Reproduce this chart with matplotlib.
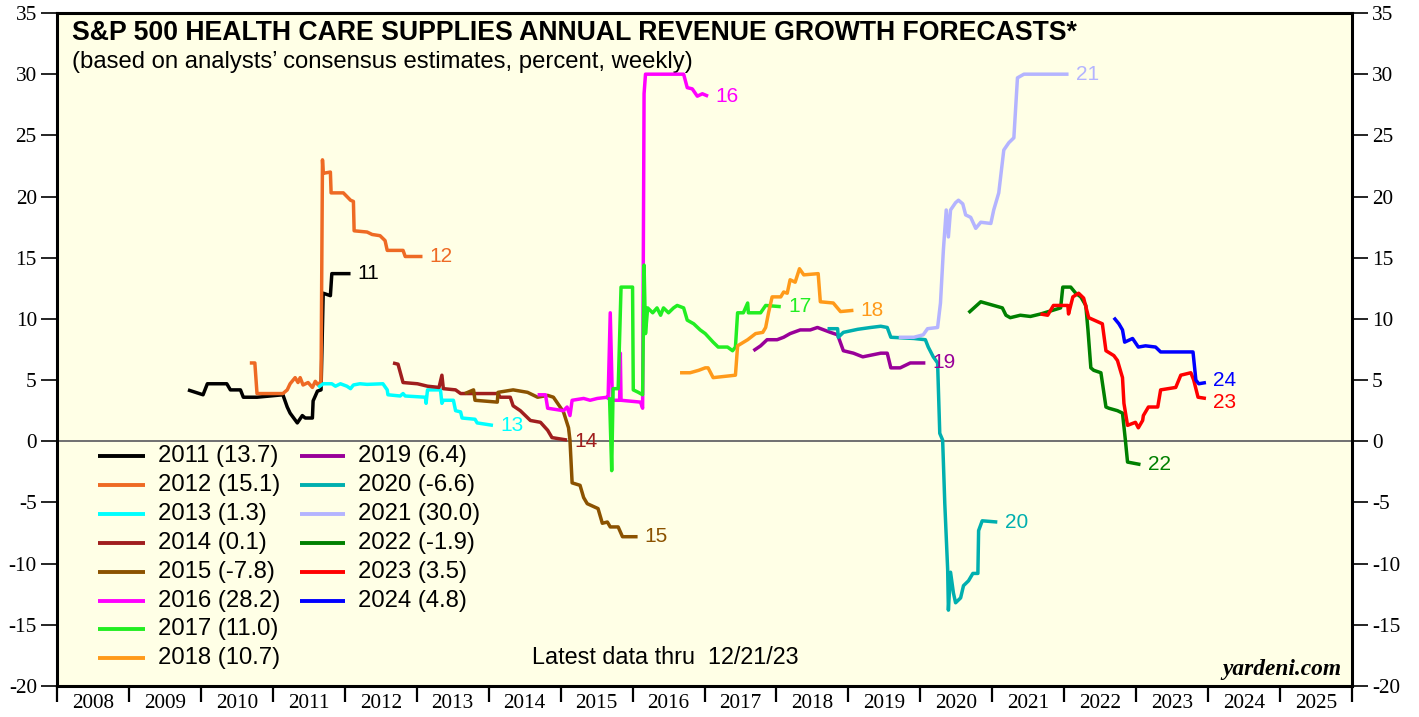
import matplotlib
matplotlib.use("Agg")
import matplotlib.pyplot as plt
import numpy as np

# ---------------- data (decimal year, percent) ----------------
t2011 = [2009.82, 2010.03, 2010.09, 2010.36, 2010.41, 2010.55, 2010.59, 2010.78, 2011.14, 2011.20, 2011.24, 2011.34, 2011.41, 2011.45, 2011.55, 2011.56, 2011.62, 2011.67, 2011.70, 2011.80, 2011.82, 2012.08]
v2011 = [4.2, 3.8, 4.7, 4.7, 4.2, 4.2, 3.6, 3.6, 3.8, 2.8, 2.3, 1.5, 2.1, 1.9, 1.9, 3.3, 4.1, 4.2, 12.1, 11.9, 13.7, 13.7]

t2012 = [2010.68, 2010.75, 2010.78, 2011.14, 2011.20, 2011.24, 2011.31, 2011.35, 2011.38, 2011.42, 2011.49, 2011.55, 2011.59, 2011.63, 2011.67, 2011.69, 2011.70, 2011.80, 2011.81, 2011.98, 2012.08, 2012.12, 2012.13, 2012.31, 2012.38, 2012.49, 2012.56, 2012.59, 2012.81, 2012.84, 2013.08]
v2012 = [6.4, 6.4, 3.9, 3.9, 4.2, 4.7, 5.2, 4.8, 5.2, 4.6, 4.8, 4.4, 4.9, 4.6, 4.9, 23.0, 21.9, 22.0, 20.3, 20.3, 19.7, 19.6, 17.2, 17.1, 16.9, 16.8, 16.4, 15.6, 15.6, 15.1, 15.1]

t2013 = [2011.63, 2011.70, 2011.82, 2011.87, 2011.94, 2012.03, 2012.08, 2012.12, 2012.21, 2012.31, 2012.53, 2012.59, 2012.60, 2012.77, 2012.81, 2012.84, 2013.12, 2013.13, 2013.15, 2013.33, 2013.35, 2013.37, 2013.51, 2013.54, 2013.61, 2013.63, 2013.81, 2013.84, 2014.06]
v2013 = [4.4, 4.7, 4.7, 4.5, 4.7, 4.5, 4.3, 4.6, 4.7, 4.65, 4.7, 4.2, 3.8, 3.7, 3.9, 3.7, 3.6, 3.1, 4.2, 4.2, 3.1, 3.35, 3.35, 2.5, 2.4, 1.9, 1.8, 1.5, 1.3]

t2014 = [2012.67, 2012.74, 2012.81, 2013.01, 2013.15, 2013.31, 2013.35, 2013.37, 2013.54, 2013.61, 2014.13, 2014.16, 2014.30, 2014.34, 2014.44, 2014.58, 2014.72, 2014.82, 2014.88, 2015.09]
v2014 = [6.4, 6.3, 4.8, 4.7, 4.5, 4.4, 5.4, 4.3, 4.2, 3.9, 3.9, 3.6, 3.6, 2.9, 2.5, 1.7, 1.55, 0.9, 0.3, 0.1]

t2015 = [2013.67, 2013.79, 2013.81, 2014.12, 2014.13, 2014.34, 2014.54, 2014.68, 2014.82, 2014.90, 2015.04, 2015.11, 2015.13, 2015.16, 2015.27, 2015.32, 2015.37, 2015.52, 2015.58, 2015.65, 2015.69, 2015.80, 2015.86, 2016.07]
v2015 = [3.9, 4.2, 3.35, 3.2, 4.0, 4.2, 4.0, 3.6, 3.75, 3.6, 2.4, 1.1, 0.1, -3.4, -3.6, -4.6, -5.1, -5.5, -6.7, -6.6, -7.0, -7.0, -7.8, -7.8]

t2016 = [2014.68, 2014.79, 2014.82, 2015.04, 2015.09, 2015.13, 2015.16, 2015.32, 2015.41, 2015.51, 2015.65, 2015.66, 2015.69, 2015.72, 2015.82, 2015.83, 2015.84, 2016.11, 2016.14, 2016.16, 2016.18, 2016.71, 2016.76, 2016.83, 2016.90, 2016.97, 2017.05]
v2016 = [3.8, 3.8, 2.7, 2.5, 2.8, 2.1, 3.35, 3.5, 3.35, 3.5, 3.6, 3.5, 10.5, 3.35, 3.35, 7.2, 3.35, 3.2, 2.7, 28.4, 30.0, 30.0, 28.9, 28.8, 28.2, 28.4, 28.2]

t2017 = [2015.68, 2015.71, 2015.73, 2015.80, 2015.84, 2016.00, 2016.01, 2016.08, 2016.14, 2016.16, 2016.18, 2016.21, 2016.28, 2016.34, 2016.39, 2016.43, 2016.50, 2016.57, 2016.62, 2016.71, 2016.76, 2016.85, 2016.94, 2017.01, 2017.12, 2017.19, 2017.32, 2017.39, 2017.43, 2017.46, 2017.54, 2017.60, 2017.61, 2017.78, 2017.85, 2018.06]
v2017 = [3.6, -2.4, 4.3, 4.3, 12.6, 12.6, 4.2, 4.0, 3.8, 14.4, 8.8, 10.9, 10.5, 10.9, 10.3, 10.9, 10.5, 10.9, 11.1, 10.9, 9.9, 9.6, 9.1, 8.8, 8.1, 7.7, 7.7, 7.4, 7.7, 10.5, 10.5, 11.3, 10.5, 10.5, 11.1, 11.0]

t2018 = [2016.66, 2016.80, 2016.92, 2017.01, 2017.05, 2017.12, 2017.43, 2017.46, 2017.60, 2017.71, 2017.81, 2017.85, 2017.89, 2017.94, 2018.06, 2018.10, 2018.15, 2018.19, 2018.26, 2018.32, 2018.38, 2018.58, 2018.61, 2018.79, 2018.89, 2019.07]
v2018 = [5.6, 5.6, 5.8, 6.0, 6.0, 5.2, 5.4, 7.8, 8.3, 8.8, 8.9, 9.3, 10.5, 11.8, 11.8, 12.2, 12.1, 13.2, 13.0, 14.1, 13.6, 13.7, 11.4, 11.3, 10.6, 10.7]

t2019 = [2017.68, 2017.78, 2017.87, 2018.01, 2018.10, 2018.19, 2018.33, 2018.47, 2018.57, 2018.75, 2018.85, 2018.93, 2019.07, 2019.20, 2019.45, 2019.54, 2019.59, 2019.72, 2019.86, 2020.07]
v2019 = [7.4, 7.8, 8.3, 8.3, 8.5, 8.8, 9.1, 9.1, 9.3, 8.9, 8.7, 7.4, 7.2, 6.9, 7.2, 7.2, 6.0, 6.0, 6.4, 6.4]

t2020 = [2018.71, 2018.85, 2018.86, 2018.93, 2019.13, 2019.31, 2019.45, 2019.54, 2019.59, 2019.91, 2020.07, 2020.11, 2020.18, 2020.24, 2020.27, 2020.31, 2020.34, 2020.38, 2020.39, 2020.42, 2020.46, 2020.49, 2020.56, 2020.60, 2020.67, 2020.73, 2020.80, 2020.81, 2020.86, 2021.07]
v2020 = [9.2, 9.2, 8.5, 8.9, 9.15, 9.3, 9.4, 9.3, 8.5, 8.4, 8.3, 7.7, 6.9, 6.4, 0.65, 0.1, -5.1, -10.5, -13.8, -10.7, -12.4, -13.2, -12.8, -11.8, -11.4, -10.8, -10.8, -7.3, -6.5, -6.6]

t2021 = [2019.70, 2019.91, 2020.04, 2020.10, 2020.24, 2020.28, 2020.32, 2020.36, 2020.39, 2020.42, 2020.49, 2020.53, 2020.59, 2020.63, 2020.70, 2020.77, 2020.84, 2020.98, 2021.02, 2021.09, 2021.16, 2021.23, 2021.30, 2021.35, 2021.44, 2022.06]
v2021 = [8.5, 8.5, 8.7, 9.2, 9.3, 11.3, 15.6, 18.9, 16.7, 18.9, 19.5, 19.7, 19.4, 18.5, 18.3, 17.4, 17.9, 17.8, 18.9, 20.3, 23.8, 24.4, 24.8, 29.7, 30.0, 30.0]

t2022 = [2020.67, 2020.84, 2021.14, 2021.19, 2021.25, 2021.39, 2021.53, 2021.67, 2021.95, 2021.98, 2022.09, 2022.16, 2022.23, 2022.30, 2022.33, 2022.37, 2022.41, 2022.51, 2022.58, 2022.62, 2022.74, 2022.81, 2022.85, 2022.88, 2023.06]
v2022 = [10.5, 11.4, 10.9, 10.3, 10.1, 10.3, 10.2, 10.4, 10.9, 12.6, 12.6, 12.1, 11.8, 11.1, 9.1, 6.0, 5.8, 5.6, 2.8, 2.7, 2.5, 2.3, 0.1, -1.7, -1.9]

t2023 = [2021.67, 2021.77, 2021.85, 2022.05, 2022.06, 2022.12, 2022.20, 2022.27, 2022.34, 2022.53, 2022.58, 2022.69, 2022.74, 2022.81, 2022.83, 2022.88, 2022.99, 2023.03, 2023.09, 2023.10, 2023.17, 2023.30, 2023.34, 2023.55, 2023.62, 2023.76, 2023.80, 2023.86, 2023.97]
v2023 = [10.4, 10.3, 11.1, 11.1, 10.4, 11.8, 12.1, 11.7, 10.1, 9.6, 7.4, 7.0, 6.6, 5.2, 3.1, 1.3, 1.55, 1.1, 1.7, 2.1, 2.8, 2.8, 4.2, 4.4, 5.4, 5.6, 5.0, 3.6, 3.5]

t2024 = [2022.69, 2022.76, 2022.81, 2022.84, 2022.95, 2023.03, 2023.13, 2023.27, 2023.34, 2023.79, 2023.83, 2023.87, 2023.97]
v2024 = [10.1, 9.6, 9.1, 8.1, 8.4, 7.7, 7.8, 7.7, 7.3, 7.3, 5.0, 4.7, 4.8]

years = [2011, 2012, 2013, 2014, 2015, 2016, 2017, 2018, 2019, 2020, 2021, 2022, 2023, 2024]
latest = [13.7, 15.1, 1.3, 0.1, -7.8, 28.2, 11.0, 10.7, 6.4, -6.6, 30.0, -1.9, 3.5, 4.8]
end_labels = ["11", "12", "13", "14", "15", "16", "17", "18", "19", "20", "21", "22", "23", "24"]
colors = ["#000000", "#EE6A24", "#00FFFF", "#A01E1E", "#8B5200", "#FF00FF", "#22EE22",
          "#FF9A1A", "#990099", "#00AFAF", "#B4B4FF", "#008000", "#FF0000", "#0000FF"]

series_t = [t2011, t2012, t2013, t2014, t2015, t2016, t2017, t2018, t2019, t2020, t2021, t2022, t2023, t2024]
series_v = [v2011, v2012, v2013, v2014, v2015, v2016, v2017, v2018, v2019, v2020, v2021, v2022, v2023, v2024]

x_years = list(range(2008, 2026))
y_ticks = [-20, -15, -10, -5, 0, 5, 10, 15, 20, 25, 30, 35]

# ---------------- figure ----------------
W, H = 1419, 717
fig = plt.figure(figsize=(W / 100, H / 100), dpi=100)
fig.patch.set_facecolor("white")
L, R, T, B = 57, 1352, 13, 686
ax = fig.add_axes([L / W, (H - B) / H, (R - L) / W, (B - T) / H])
ax.set_facecolor("#FFFFE6")


def ax_x(px):
    return (px - L) / (R - L)


def ax_y(py):
    return (B - py) / (B - T)


ax.axhline(0, color="#707070", lw=1.4, zorder=1)

for i in range(len(years)):
    ax.plot(series_t[i], series_v[i], color=colors[i], lw=2.5, solid_joinstyle="round",
            solid_capstyle="butt", zorder=3 + i * 0.01)

# end labels
label_dy = {"23": -0.3, "24": 0.2, "14": -0.1}
for i, lab in enumerate(end_labels):
    ax.text(series_t[i][-1] + 0.1, series_v[i][-1] + label_dy.get(lab, 0.0), lab,
            color=colors[i], fontsize=15, family="Liberation Sans", va="center", ha="left", zorder=5)

ax.set_xlim(2008, 2026)
ax.set_ylim(-20, 35)

ax.set_xticks(x_years + [2026])
ax.set_xticklabels([])
ax.set_xticks([y + 0.5 for y in x_years], minor=True)
ax.set_xticklabels([str(y) for y in x_years], minor=True, family="Liberation Serif", fontsize=15.3)
ax.tick_params(axis="x", which="major", direction="out", length=11.5, width=1.6, color="black")
ax.tick_params(axis="x", which="minor", length=0, pad=6)

ax.set_yticks(y_ticks)
ax.set_yticklabels([str(v) for v in y_ticks], family="Liberation Serif", fontsize=15.3)
ax.tick_params(axis="y", which="major", direction="out", length=11.5, width=1.2, color="black",
               left=True, right=True, labelleft=True, labelright=True, pad=3)

for s in ax.spines.values():
    s.set_linewidth(2.2)
    s.set_color("black")

# title / subtitle
ax.text(ax_x(72), ax_y(33),
        "S&P 500 HEALTH CARE SUPPLIES ANNUAL REVENUE GROWTH FORECASTS*",
        transform=ax.transAxes, family="Liberation Sans", fontweight="bold", fontsize=19.2,
        va="center", ha="left")
ax.text(ax_x(72), ax_y(62),
        "(based on analysts\u2019 consensus estimates, percent, weekly)",
        transform=ax.transAxes, family="Liberation Sans", fontsize=17.2, va="center", ha="left")

# legend (manual, two columns)
row0, row_step = 456, 28.9
for i, yr in enumerate(years):
    col = 0 if i < 8 else 1
    row = i if i < 8 else i - 8
    yp = row0 + row * row_step
    x0, x1, xt = (98, 145, 158) if col == 0 else (300, 345, 358)
    ya = ax_y(yp)
    ax.plot([ax_x(x0), ax_x(x1)], [ya, ya], transform=ax.transAxes,
            color=colors[i], lw=2.8, solid_capstyle="butt", zorder=6)
    ax.text(ax_x(xt), ya, f"{yr} ({latest[i]:.1f})", transform=ax.transAxes,
            family="Liberation Sans", fontsize=17.2, va="center", ha="left", zorder=6)

ax.text(ax_x(665), ax_y(658), "Latest data thru  12/21/23",
        transform=ax.transAxes, family="Liberation Sans", fontsize=16.8, va="center", ha="center")
ax.text(ax_x(1341), ax_y(669), "yardeni.com",
        transform=ax.transAxes, family="Liberation Serif", fontweight="bold", fontstyle="italic",
        fontsize=16.8, va="center", ha="right")

fig.savefig("out.png", dpi=100, facecolor="white")
